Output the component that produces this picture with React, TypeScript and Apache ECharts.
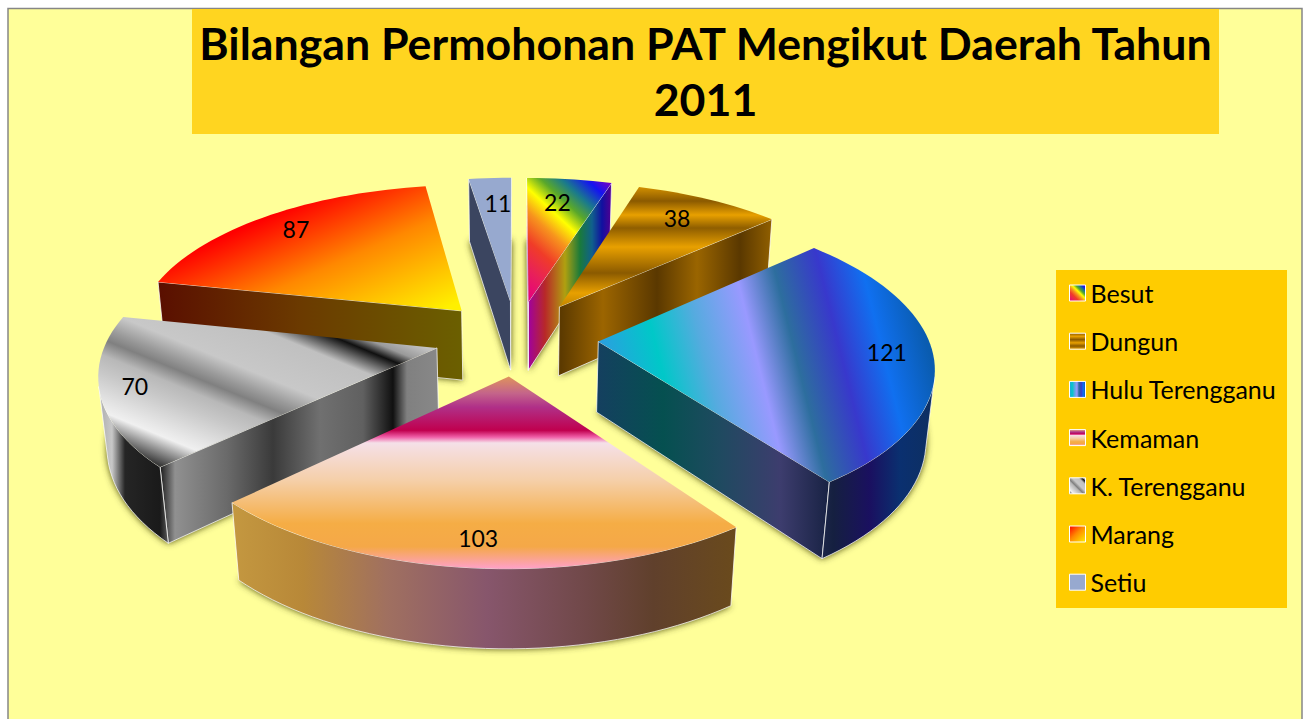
import React, { useEffect, useRef } from "react";
import * as echarts from "echarts";

const titleText = "Bilangan Permohonan PAT Mengikut Daerah Tahun\n2011";
const categories = ["Besut", "Dungun", "Hulu Terengganu", "Kemaman", "K. Terengganu", "Marang", "Setiu"];
const values = [22, 38, 121, 103, 70, 87, 11];

// ---- presentation, not data ----
const paintOrder = [5, 6, 0, 1, 4, 2, 3];
const labelReach = [0.78, 0.795, 0.855, 0.855, 0.89, 0.835, 0.77];
const labelTurn = [-1.1, -1.4, -1.5, -0.2, 0.7, 0.3, 1.0];
const EXPLODE = 0.246, RADIUS = 0.99, AX = 333, BY = 153, K = 0.148, M = 0.021, H = 72, X0 = 516.5, Y0 = 337.5;

type Stop = [number, string];
const G = (x1: number, y1: number, x2: number, y2: number, stops: Stop[], global = true) =>
  new echarts.graphic.LinearGradient(x1, y1, x2, y2, stops.map(([offset, color]) => ({ offset, color })), global);

const horizontal = (x1: number, x2: number, stops: Stop[]) =>
  G(x1, 0, x2, 0, stops.map(([x, c]) => [(x - x1) / (x2 - x1), c] as Stop));
const vertical = (y1: number, y2: number, stops: Stop[]) =>
  G(0, y1, 0, y2, stops.map(([y, c]) => [(y - y1) / (y2 - y1), c] as Stop));

const besutStops: Stop[] = [[0, "#e6007e"], [0.15, "#e8205a"], [0.3, "#f03c28"], [0.45, "#f7941d"], [0.57, "#ffff00"], [0.68, "#5aa82a"], [0.78, "#1a7a8c"], [0.9, "#1414f0"], [1, "#7a00c0"]];
const hulStops: Stop[] = [[0, "#2b9fe0"], [0.17, "#00c8c8"], [0.31, "#55abdf"], [0.47, "#9999ff"], [0.59, "#2d6e9e"], [0.73, "#3838cc"], [0.86, "#1070f0"], [1, "#0a5cb0"]];
const kemStops: Stop[] = [[0, "#e0955a"], [0.09, "#c4648a"], [0.16, "#b03088"], [0.28, "#c0004e"], [0.315, "#f060a8"], [0.345, "#f5e0e8"], [0.54, "#f5cfa8"], [0.76, "#f5ad45"], [0.88, "#f5a848"], [1, "#ffa0d0"]];
const ktStops: Stop[] = [[0, "#3a3a3a"], [0.07, "#9a9a9a"], [0.13, "#f0f0f0"], [0.3, "#c8c8c8"], [0.38, "#b8b8b8"], [0.45, "#808080"], [0.5, "#9a9a9a"], [0.58, "#c8c8c8"], [0.78, "#c0c0c0"], [0.88, "#101010"], [0.93, "#9a9a9a"], [1, "#c4c4c4"]];
const marStops: Stop[] = [[0, "#ff0000"], [0.45, "#ff8800"], [1, "#fff000"]];

const topFills = [
  G(528, 298, 624, 195, besutStops),
  vertical(186, 304, [[186, "#d89400"], [201, "#8b5a00"], [215, "#e8a000"], [228, "#8f5e00"], [247, "#e8a000"], [273, "#8b5a00"], [293, "#e8a000"], [304, "#c88a00"]]),
  G(599, 340, 907, 264, hulStops),
  vertical(376, 570, kemStops.map(([t, c]) => [376 + t * 194, c] as Stop)),
  G(160, 465, 240, 271, ktStops),
  G(250, 225, 313, 367, marStops),
  "#97a9cf",
];
const wallFills = [
  horizontal(528, 611, [[528, "#a000a0"], [545, "#b82828"], [565, "#b0a010"], [580, "#1a7a3a"], [592, "#10608c"], [602, "#1010a0"], [611, "#500090"]]),
  horizontal(561, 771, [[561, "#5c3a00"], [603, "#9c6500"], [657, "#5a3800"], [697, "#9a6500"], [740, "#5a3800"], [771, "#8f5e00"]]),
  horizontal(599, 936, [[599, "#14405f"], [663, "#055050"], [720, "#1f4a60"], [780, "#3d3d6e"], [833, "#152040"], [870, "#1a1060"], [900, "#0a3070"], [936, "#0e2f60"]]),
  horizontal(232, 736, [[232, "#c49840"], [303, "#b88838"], [387, "#a07060"], [487, "#87566c"], [587, "#704848"], [653, "#60402c"], [736, "#6a4a1c"]]),
  horizontal(98, 438, [[98, "#aaaaaa"], [112, "#c8c8c8"], [125, "#252525"], [160, "#1a1a1a"], [175, "#909090"], [227, "#6a6a6a"], [273, "#3a3a3a"], [320, "#707070"], [363, "#606060"], [393, "#101010"], [407, "#808080"], [438, "#888888"]]),
  horizontal(160, 464, [[160, "#5a0f00"], [300, "#6b3a00"], [464, "#6b6000"]]),
  "#3b4560",
];
const iconFills = [
  G(0, 1, 1, 0, besutStops, false),
  G(0, 0, 0, 1, [[0, "#8b5a00"], [0.2, "#e8a000"], [0.4, "#8b5a00"], [0.6, "#e8a000"], [0.8, "#8b5a00"], [1, "#e8a000"]], false),
  G(0, 0, 1, 0, hulStops, false),
  G(0, 0, 0, 1, kemStops, false),
  G(0, 1, 1, 0, ktStops, false),
  G(0, 0, 1, 1, marStops, false),
  "#97a9cf",
];

const total = values.reduce((a, b) => a + b, 0);
const rad = (d: number) => (d * Math.PI) / 180;
const starts: number[] = [];
values.reduce((acc, v, i) => { starts[i] = acc; return acc + (v / total) * 360; }, 0);

const project = (u: number, v: number, z: number): number[] => {
  const w = 1 / (1 + K * v + M * z);
  return [X0 + AX * u * w, Y0 - BY * v * w + H * z * w];
};

const EDGE = "rgba(255,255,255,0.75)";

function sliceChildren(i: number, value: number) {
  const a0 = starts[i];
  const sweep = (value / total) * 360;
  const midDeg = a0 + sweep / 2;
  const mid = rad(midDeg);
  const ex = EXPLODE * Math.sin(mid);
  const ey = EXPLODE * Math.cos(mid);
  const world: number[][] = [[ex, ey]];
  const steps = Math.max(4, Math.ceil(sweep / 2));
  for (let s = 0; s <= steps; s++) {
    const t = rad(a0 + (sweep * s) / steps);
    world.push([ex + RADIUS * Math.sin(t), ey + RADIUS * Math.cos(t)]);
  }
  const top = world.map((p) => project(p[0], p[1], 0));
  const bot = world.map((p) => project(p[0], p[1], 1));
  const children: any[] = [];
  children.push({
    type: "polygon", silent: true, shape: { points: bot },
    style: { fill: "#77772a", shadowBlur: 7, shadowColor: "rgba(60,60,0,1)" },
  });
  const facing = (a: number, b: number) => {
    const q = [top[a], top[b], bot[b], bot[a]];
    let area = 0;
    q.forEach((p, n) => { const r = q[(n + 1) % 4]; area += p[0] * r[1] - r[0] * p[1]; });
    return area < 0;
  };
  const wall = (points: number[][]) => children.push({
    type: "polygon", silent: true, shape: { points },
    style: { fill: wallFills[i], stroke: EDGE, lineWidth: 1 },
  });
  const n = top.length;
  if (facing(n - 1, 0)) wall([top[n - 1], top[0], bot[0], bot[n - 1]]);
  if (facing(0, 1)) wall([top[0], top[1], bot[1], bot[0]]);
  let run: number[] = [];
  const flush = () => {
    if (run.length > 1) {
      wall([...run.map((k) => top[k]), ...run.slice().reverse().map((k) => bot[k])]);
    }
    run = [];
  };
  for (let k = 1; k < n - 1; k++) {
    if (facing(k, k + 1)) { if (!run.length) run.push(k); run.push(k + 1); } else flush();
  }
  flush();
  children.push({ type: "polygon", silent: true, shape: { points: top }, style: { fill: topFills[i] } });
  const reach = labelReach[i];
  const la = rad(midDeg + labelTurn[i]);
  const lp = project(ex + reach * Math.sin(la), ey + reach * Math.cos(la), 0);
  children.push({
    type: "text", silent: true, x: lp[0], y: lp[1], z2: 10,
    style: { text: String(value), fill: "#000", font: "23px Lato", align: "center", verticalAlign: "middle" },
  });
  return children;
}

export default function App() {
  const ref = useRef<HTMLDivElement>(null);
  useEffect(() => {
    const chart = echarts.init(ref.current!, undefined, { renderer: "svg" });
    chart.setOption({
      animation: false,
      title: {
        text: titleText, left: 705.5, top: 15, textAlign: "center", padding: 0,
        textStyle: { fontFamily: "Lato", fontWeight: "bold", fontSize: 44.7, lineHeight: 56, color: "#000" },
      },
      legend: {
        orient: "vertical", left: 1069, top: 279, padding: 0, itemWidth: 16, itemHeight: 16, itemGap: 20.2,
        selectedMode: false, icon: "rect",
        textStyle: { fontFamily: "Lato", fontSize: 25, lineHeight: 28, color: "#000", padding: 0 },
        data: categories.map((name, i) => ({
          name, icon: "rect",
          itemStyle: { color: iconFills[i], borderColor: "#fff", borderWidth: 1 },
        })),
      },
      graphic: [
        { type: "rect", z: -3, silent: true, shape: { x: 8, y: 8.5, width: 1294, height: 730 }, style: { fill: "#ffff99", stroke: "#868686", lineWidth: 1.5 } },
        { type: "rect", z: -2, silent: true, shape: { x: 192, y: 9, width: 1027, height: 125 }, style: { fill: "#ffd520" } },
        { type: "rect", z: -2, silent: true, shape: { x: 1056, y: 270, width: 231, height: 338 }, style: { fill: "#ffcc00" } },
      ],
      series: categories.map((name, i) => ({
        type: "custom", name, coordinateSystem: "none", z: 2 + paintOrder.indexOf(i),
        data: [values[i]], silent: true,
        itemStyle: { color: typeof iconFills[i] === "string" ? iconFills[i] : "#888" },
        renderItem: (_p: any, api: any) => ({ type: "group", children: sliceChildren(i, api.value(0)) }),
      })),
    });
    return () => chart.dispose();
  }, []);
  return <div ref={ref} style={{ position: "absolute", left: 0, top: 0, width: 1304, height: 719 }} />;
}
